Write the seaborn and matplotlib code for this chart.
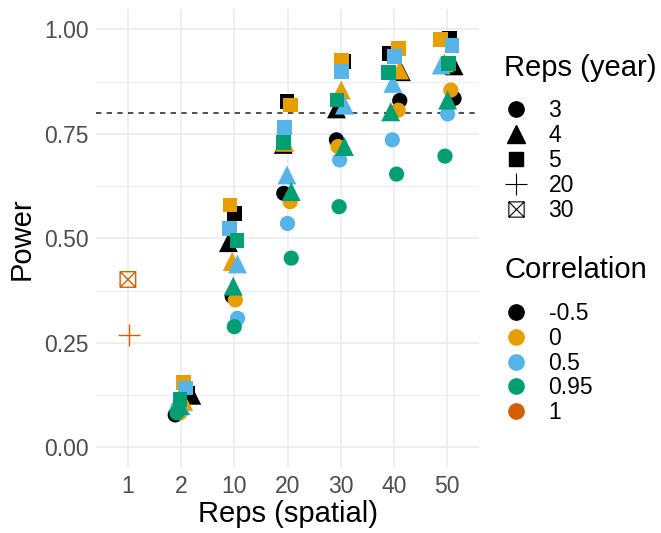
import seaborn as sns
import matplotlib
matplotlib.use("Agg")
import matplotlib.pyplot as plt
import matplotlib.lines as mlines
from matplotlib.path import Path
import pandas as pd

# x categories (reps, spatial) and legend levels
spatial_labels = ["1", "2", "10", "20", "30", "40", "50"]
year_levels = [3, 4, 5, 20, 30]
corr_levels = ["-0.5", "0", "0.5", "0.95", "1"]

# power for spatial reps 2, 10, 20, 30, 40, 50
pw_m05_y3 = [0.078, 0.362, 0.608, 0.736, 0.830, 0.835]
pw_m05_y4 = [0.125, 0.490, 0.725, 0.810, 0.899, 0.913]
pw_m05_y5 = [0.130, 0.559, 0.827, 0.923, 0.943, 0.978]
pw_0_y3 = [0.083, 0.353, 0.588, 0.720, 0.807, 0.855]
pw_0_y4 = [0.110, 0.445, 0.730, 0.855, 0.903, 0.920]
pw_0_y5 = [0.155, 0.580, 0.819, 0.927, 0.955, 0.976]
pw_05_y3 = [0.095, 0.309, 0.536, 0.688, 0.736, 0.798]
pw_05_y4 = [0.100, 0.439, 0.652, 0.819, 0.871, 0.915]
pw_05_y5 = [0.142, 0.524, 0.765, 0.899, 0.935, 0.961]
pw_095_y3 = [0.083, 0.289, 0.453, 0.576, 0.654, 0.697]
pw_095_y4 = [0.100, 0.386, 0.612, 0.720, 0.803, 0.831]
pw_095_y5 = [0.114, 0.495, 0.730, 0.831, 0.897, 0.919]
# correlation 1, spatial reps 1, years 20 and 30
pw_1 = [0.269, 0.402]

# horizontal jitter as seen in the picture (category units)
jit_m05_y3 = [-0.11, -0.04, -0.07, -0.08, 0.11, 0.13]
jit_m05_y4 = [0.20, -0.11, -0.08, -0.08, 0.14, 0.13]
jit_m05_y5 = [0.13, 0.00, -0.01, 0.06, -0.08, 0.04]
jit_0_y3 = [-0.02, 0.02, 0.05, -0.05, 0.08, 0.07]
jit_0_y4 = [0.05, -0.04, -0.05, 0.01, 0.11, -0.05]
jit_0_y5 = [0.04, -0.08, 0.05, 0.01, 0.08, -0.12]
jit_05_y3 = [-0.06, 0.06, 0.00, -0.02, -0.03, 0.01]
jit_05_y4 = [0.00, 0.06, -0.01, 0.07, -0.02, -0.11]
jit_05_y5 = [0.08, -0.09, -0.05, 0.01, 0.01, 0.09]
jit_095_y3 = [-0.08, 0.00, 0.07, -0.03, 0.05, -0.04]
jit_095_y4 = [-0.03, -0.02, 0.07, 0.07, -0.06, 0.01]
jit_095_y5 = [-0.02, 0.05, -0.07, -0.07, -0.10, 0.02]
jit_1 = [0.03, 0.00]

COLORS = {"-0.5": "#000000", "0": "#E69F00", "0.5": "#56B4E9",
          "0.95": "#009E73", "1": "#D55E00"}
MARKERS = {3: "o", 4: "^", 5: "s"}
SIZES = {3: 120, 4: 185, 5: 112}

TEXT_SIZE = 16.5
TITLE_SIZE = 21

BOXX = Path([(-1, -1), (1, -1), (1, 1), (-1, 1), (-1, -1),
             (-1, -1), (1, 1), (-1, 1), (1, -1)],
            [Path.MOVETO, Path.LINETO, Path.LINETO, Path.LINETO, Path.LINETO,
             Path.MOVETO, Path.LINETO, Path.MOVETO, Path.LINETO])

series = [
    ("-0.5", 3, pw_m05_y3, jit_m05_y3), ("-0.5", 4, pw_m05_y4, jit_m05_y4),
    ("-0.5", 5, pw_m05_y5, jit_m05_y5),
    ("0", 3, pw_0_y3, jit_0_y3), ("0", 4, pw_0_y4, jit_0_y4), ("0", 5, pw_0_y5, jit_0_y5),
    ("0.5", 3, pw_05_y3, jit_05_y3), ("0.5", 4, pw_05_y4, jit_05_y4),
    ("0.5", 5, pw_05_y5, jit_05_y5),
    ("0.95", 3, pw_095_y3, jit_095_y3), ("0.95", 4, pw_095_y4, jit_095_y4),
    ("0.95", 5, pw_095_y5, jit_095_y5),
]

rows = []
for corr, year, pw, jit in series:
    for i, (p, j) in enumerate(zip(pw, jit)):
        rows.append({"corr": corr, "year": year, "x": i + 1 + j, "power": p})
df = pd.DataFrame(rows)

df1 = pd.DataFrame({"corr": ["1", "1"], "year": [20, 30],
                    "x": [0 + jit_1[0], 0 + jit_1[1]], "power": pw_1})

FONT = ["Liberation Sans", "DejaVu Sans"]
plt.rcParams["font.family"] = FONT

fig = plt.figure(figsize=(6.61, 5.33), dpi=100)
ax = fig.add_axes([0.1452, 0.1212, 0.5795, 0.8627])

sns.scatterplot(data=df, x="x", y="power", hue="corr", style="year", size="year",
                palette=COLORS, markers=MARKERS, sizes=SIZES, linewidth=0,
                legend=False, ax=ax, zorder=3)

# correlation 1 points use line-art markers
plus = df1[df1["year"] == 20]
boxx = df1[df1["year"] == 30]
ax.scatter(plus["x"], plus["power"], marker="+", s=250, color=COLORS["1"], linewidths=1.0, zorder=3)
ax.scatter(boxx["x"], boxx["power"], marker=BOXX, s=125, facecolors="none",
           edgecolors=COLORS["1"], linewidths=1.0, zorder=3)

ax.axhline(0.8, color="#333333", linewidth=1.2, dashes=(3.2, 3.2), zorder=2)

ax.set_xlim(-0.6, 6.6)
ax.set_ylim(-0.05, 1.05)
ax.set_xticks(range(len(spatial_labels)))
ax.set_xticklabels(spatial_labels)
ax.set_yticks([0, 0.25, 0.5, 0.75, 1.0])
ax.set_yticklabels(["0.00", "0.25", "0.50", "0.75", "1.00"])
ax.set_yticks([0.125, 0.375, 0.625, 0.875], minor=True)
ax.grid(which="major", color="#EBEBEB", linewidth=1.1)
ax.grid(which="minor", axis="y", color="#EBEBEB", linewidth=0.6)
ax.set_axisbelow(True)
for s in ax.spines.values():
    s.set_visible(False)
ax.tick_params(which="both", length=0, labelsize=TEXT_SIZE, labelcolor="#4D4D4D")
ax.tick_params(axis="y", pad=5)
ax.tick_params(axis="x", pad=5)
ax.set_xlabel("Reps (spatial)", fontsize=TITLE_SIZE, labelpad=1)
ax.set_ylabel("Power", fontsize=TITLE_SIZE, labelpad=6)

# legends: titles as text, keys as title-less legends
year_handles = [
    mlines.Line2D([], [], linestyle="none", marker="o", markersize=11, color="black", label="3"),
    mlines.Line2D([], [], linestyle="none", marker="^", markersize=12.5, color="black", label="4"),
    mlines.Line2D([], [], linestyle="none", marker="s", markersize=10.5, color="black", label="5"),
    mlines.Line2D([], [], linestyle="none", marker="+", markersize=15.5, markeredgewidth=0.8,
                  color="black", label="20"),
    mlines.Line2D([], [], linestyle="none", marker=BOXX, markersize=11, markeredgewidth=0.8,
                  markerfacecolor="none", color="black", label="30"),
]
corr_handles = [mlines.Line2D([], [], linestyle="none", marker="o", markersize=11,
                              color=COLORS[c], label=c) for c in corr_levels]

leg_kw = dict(frameon=False, loc="upper left", fontsize=TEXT_SIZE,
              handlelength=1.0, handletextpad=0.93, labelspacing=0.08,
              borderaxespad=0, borderpad=0)
fig.text(0.7625, 0.8724, "Reps (year)", fontsize=TITLE_SIZE, va="center", ha="left")
fig.legend(handles=year_handles, bbox_to_anchor=(0.763, 0.8135), **leg_kw)
fig.text(0.7625, 0.4934, "Correlation", fontsize=TITLE_SIZE, va="center", ha="left")
fig.legend(handles=corr_handles, bbox_to_anchor=(0.763, 0.4334), **leg_kw)

fig.savefig("out.png", dpi=100, facecolor="white")
